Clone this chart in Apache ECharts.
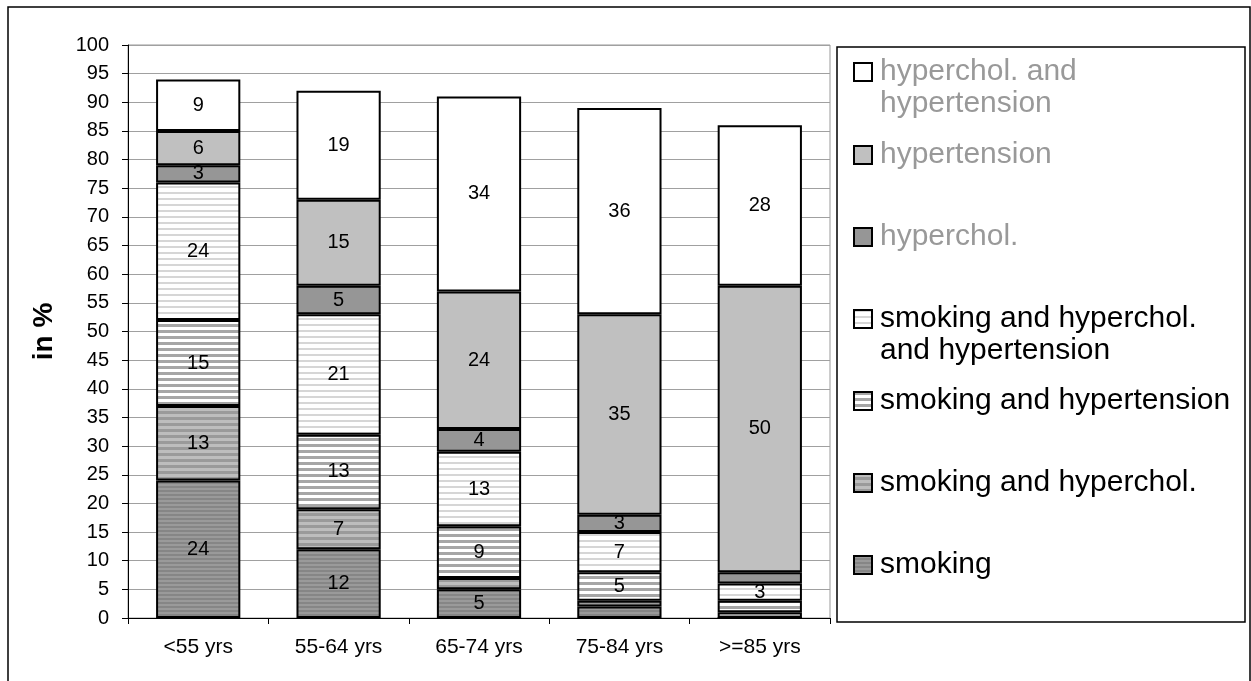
<!DOCTYPE html>
<html>
<head>
<meta charset="utf-8">
<script src="https://cdn.jsdelivr.net/npm/echarts@6/dist/echarts.min.js"></script>
<style>html,body{margin:0;padding:0;background:#fff}#c{width:1251px;height:681px}</style>
</head>
<body>
<div id="c"></div>
<script>
const categories = ['<55 yrs', '55-64 yrs', '65-74 yrs', '75-84 yrs', '>=85 yrs'];
const yTicks = [0, 5, 10, 15, 20, 25, 30, 35, 40, 45, 50, 55, 60, 65, 70, 75, 80, 85, 90, 95, 100];
const smoking = [24, 12, 5, 2, 0];
const smokingHyperchol = [13, 7, 2, 1, 1];
const smokingHypertension = [15, 13, 9, 5, 2];
const smokingBoth = [24, 21, 13, 7, 3];
const hyperchol = [3, 5, 4, 3, 2];
const hypertension = [6, 15, 24, 35, 50];
const hypercholHypertension = [9, 19, 34, 36, 28];
const seriesNames = ['smoking', 'smoking and hyperchol.', 'smoking and hypertension',
  'smoking and hyperchol.\nand hypertension', 'hyperchol.', 'hypertension', 'hyperchol. and\nhypertension'];

function stripes(bg, fg, period, fh) {
  const c = document.createElement('canvas');
  c.width = 8; c.height = period;
  const g = c.getContext('2d');
  g.fillStyle = bg; g.fillRect(0, 0, 8, period);
  g.fillStyle = fg; g.fillRect(0, 0, 8, fh);
  return { image: c, repeat: 'repeat' };
}
const fills = [
  stripes('#868686', '#9a9a9a', 4, 2),
  stripes('#9a9a9a', '#bdbdbd', 6, 3),
  stripes('#ffffff', '#a6a6a6', 6, 3),
  stripes('#ffffff', '#d6d6d6', 6, 2),
  '#969696',
  '#c0c0c0',
  '#ffffff'
];
const legendColors = ['#000', '#000', '#000', '#000', '#999', '#999', '#999'];
const dataArr = [smoking, smokingHyperchol, smokingHypertension, smokingBoth, hyperchol, hypertension, hypercholHypertension];
const FONT = 'Liberation Sans, Arial, sans-serif';

const series = dataArr.map((d, i) => ({
  name: seriesNames[i],
  type: 'bar',
  stack: 'total',
  barCategoryGap: '40%',
  data: d,
  itemStyle: { color: fills[i], borderColor: '#000', borderWidth: 2 },
  label: {
    show: true, position: 'inside', color: '#000', fontSize: 20,
    fontFamily: FONT,
    formatter: p => (p.value >= 3 ? String(p.value) : '')
  }
}));

const centers = [565, 483, 401, 319, 237, 155, 72];
const LH = 32;
const legends = seriesNames.map((n, i) => {
  const twoLine = n.indexOf('\n') >= 0;
  return {
    show: true,
    data: [n],
    left: 853,
    padding: 0,
    top: twoLine ? centers[i] - 1.5 * LH : centers[i] - LH / 2,
    orient: 'vertical',
    icon: 'rect',
    itemWidth: 18, itemHeight: 18,
    selectedMode: false,
    itemStyle: { borderColor: '#000', borderWidth: 2 },
    formatter: twoLine ? (name => '\n' + name) : undefined,
    textStyle: {
      color: legendColors[i], fontSize: 30, lineHeight: LH,
      fontFamily: FONT, padding: [0, 0, 0, 3]
    }
  };
});

const chart = echarts.init(document.getElementById('c'));
chart.setOption({
  animation: false,
  backgroundColor: '#fff',
  textStyle: { fontFamily: FONT },
  graphic: [
    { type: 'rect', shape: { x: 8, y: 7, width: 1242, height: 700 }, style: { fill: 'none', stroke: '#000', lineWidth: 1.5 }, silent: true, z: -1 },
    { type: 'rect', shape: { x: 837, y: 47, width: 408, height: 575 }, style: { fill: 'none', stroke: '#000', lineWidth: 1.5 }, silent: true, z: -1 }
  ],
  grid: { left: 128, top: 45, right: 421, bottom: 63, show: true, borderColor: '#999', borderWidth: 1 },
  legend: legends,
  xAxis: {
    type: 'category', data: categories,
    axisLine: { lineStyle: { color: '#000', width: 1 } },
    axisTick: { show: true, length: 6, lineStyle: { color: '#000' } },
    axisLabel: { color: '#000', fontSize: 21, margin: 19, fontFamily: FONT }
  },
  yAxis: {
    type: 'value', min: 0, max: 100, interval: 5,
    name: 'in %', nameLocation: 'middle', nameGap: 70, nameRotate: 90,
    nameTextStyle: { color: '#000', fontSize: 28, fontWeight: 'bold', fontFamily: FONT },
    axisLine: { show: true, lineStyle: { color: '#000', width: 1 } },
    axisTick: { show: true, length: 6, lineStyle: { color: '#000' } },
    axisLabel: { color: '#000', fontSize: 20, margin: 19, fontFamily: FONT, formatter: v => (yTicks.indexOf(v) >= 0 ? String(v) : '') },
    splitLine: { lineStyle: { color: '#a0a0a0', width: 1 } }
  },
  series: series
});
</script>
</body>
</html>
